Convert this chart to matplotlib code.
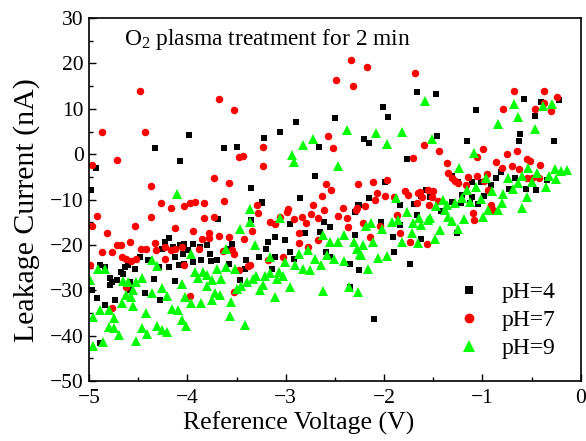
import matplotlib
matplotlib.use("Agg")
import matplotlib.pyplot as plt
from matplotlib.ticker import MultipleLocator

plt.rcParams['font.family'] = ['Liberation Serif', 'DejaVu Serif']
plt.rcParams['mathtext.fontset'] = 'custom'
plt.rcParams['mathtext.rm'] = 'Liberation Serif'

# pH = 4 : (reference voltage V, leakage current nA)
ph4_v = [-4.93, -4.98, -4.33, -3.98, -4.08, -3.63, -3.50, -3.35,
         -1.67, -2.01, -1.96, -2.90, -2.50, -3.06, -3.22, -2.66, -2.20, -2.15, -1.77, -2.70,
         -3.24, -2.85, -1.99, -2.15, -2.25, -1.84, -1.70,
         -1.47, -1.07, -0.58, -0.40, -0.22, -0.47, -0.62, -0.63, -0.27, -1.16, -1.46,
         -1.57, -1.62, -1.31, -1.25, -0.91, -0.86, -0.81, -0.67, -0.73, -0.56, -0.45, -0.34,
         -1.21, -1.11, -0.98, -1.31, -1.22, -1.04,
         -1.53, -1.67, -1.62, -1.26, -1.13, -1.11, -1.01, -1.42,
         -3.69, -3.35, -4.19, -4.23, -4.26, -4.15, -4.08, -4.03, -3.94, -3.87, -3.80, -3.99,
         -4.04, -4.13, -4.19, -4.29, -4.40, -4.48, -3.77, -3.70, -3.76, -3.86, -3.94, -4.09,
         -4.03, -3.58, -3.55, -3.57, -3.40, -3.41, -3.47,
         -4.89, -4.84, -4.68, -4.63, -4.60, -4.66, -4.79, -4.79, -4.72, -4.77, -4.58, -4.58,
         -4.53, -4.43, -4.34, -4.28, -4.13, -4.97, -4.92, -4.74, -4.84, -4.89,
         -3.24, -2.96, -3.11, -3.18, -3.01, -3.20, -3.27, -3.11, -3.14, -2.96, -2.92, -2.80,
         -2.65, -2.61, -2.55, -2.59, -2.55, -2.35, -2.25, -2.30, -2.30, -2.26, -2.03, -1.91,
         -1.90, -1.84, -1.74, -2.35, -2.10]
ph4_i = [-3.1, -8.0, 1.4, 4.3, -1.5, 1.3, 1.5, -7.4,
         13.6, 10.4, 8.3, 7.1, 7.9, 5.0, 3.6, 1.6, 3.4, 2.4, -1.0, -4.8,
         -10.6, -9.7, -6.2, -9.6, -11.1, -11.1, -10.9,
         13.3, 9.7, 12.2, 11.6, 12.0, 8.5, 4.4, 2.8, 2.8, 2.9, 4.0,
         -7.8, -9.2, -4.8, -6.1, -6.8, -5.3, -3.9, -5.3, -7.7, -7.7, -7.8, -5.6,
         -9.0, -9.4, -9.2, -10.5, -10.8, -11.0,
         -9.4, -13.4, -18.6, -17.4, -10.8, -6.1, -6.1, -12.5,
         -14.3, -14.5, -18.5, -19.3, -20.8, -20.4, -20.0, -19.7, -19.7, -20.4, -20.0, -21.1,
         -21.9, -22.7, -24.8, -24.8, -23.3, -22.6, -21.9, -23.3, -23.6, -23.3, -23.7, -24.4,
         -24.1, -24.1, -19.7, -20.8, -23.3, -25.2, -27.7,
         -24.4, -24.8, -25.9, -24.8, -24.4, -26.4, -27.4, -28.8, -27.7, -28.1, -28.1, -29.9,
         -25.4, -30.7, -27.5, -32.1, -27.9, -29.9, -31.6, -32.1, -33.3, -41.6,
         -10.8, -15.3, -18.2, -19.3, -18.9, -20.8, -22.6, -22.6, -25.2, -21.5, -23.0, -17.4,
         -17.1, -14.9, -16.0, -21.5, -22.6, -24.1, -25.5, -17.8, -12.8, -11.2, -14.9, -18.3,
         -21.6, -15.6, -24.3, -29.3, -36.4]

# pH = 7
ph7_v = [-4.48, -4.87, -4.43, -3.68, -3.53, -4.72, -4.97, -4.37, -3.73, -3.58, -3.48, -3.43,
         -4.27, -4.17, -4.03, -3.97, -3.92, -3.83, -3.63,
         -2.34, -2.17, -2.49, -2.32, -1.69, -2.57, -2.52, -3.23, -3.23, -1.71,
         -2.59, -2.54, -2.63, -2.27, -2.11, -1.97, -2.07, -2.09, -1.99, -1.90, -1.79, -1.76,
         -1.65, -3.29, -2.98, -2.72, -2.42, -2.28, -2.19,
         -0.68, -0.37, -0.24, -0.79, -0.47, -0.30, -0.37, -1.59, -1.44, -0.99, -1.05, -1.36,
         -0.86, -0.75, -0.65, -0.55, -0.52, -0.41, -0.80, -0.70, -0.63, -1.35, -1.31, -1.28,
         -1.25, -1.15, -1.05, -0.95, -1.17, -0.98, -0.94, -1.63, -1.55, -1.50, -1.51, -1.61,
         -1.66, -1.54, -0.91, -0.55, -0.50, -0.42,
         -1.10, -1.09, -0.89, -1.56, -1.45,
         -4.92, -4.97, -4.82, -4.37, -4.53, -4.13, -3.83, -3.73, -3.94, -3.78, -3.68, -3.58,
         -3.78, -3.42, -4.72, -4.68, -4.77, -4.87, -4.58, -4.47, -4.42, -4.33, -4.32, -4.23,
         -4.17, -4.13, -4.06, -3.85, -3.88, -4.67, -4.62, -4.57, -4.52, -4.23, -4.03, -3.64,
         -3.55, -3.53, -3.38, -4.62, -4.77, -3.97, -3.53, -3.48, -4.99,
         -3.28, -3.34, -3.16, -3.11, -3.06, -2.99, -2.92, -2.83, -2.79, -2.74, -2.67, -2.61,
         -2.47, -2.38, -2.37, -2.29, -2.21, -2.14, -2.87, -2.87, -2.77, -2.67, -3.03, -3.18,
         -1.87, -1.84, -1.74, -2.04, -3.36]
ph7_i = [14.0, 5.0, 5.0, 12.1, 9.7, -1.3, -2.4, -7.0, -5.2, -6.3, -0.6, -0.4,
         -10.8, -11.9, -11.4, -10.7, -10.5, -10.7, -10.3,
         20.7, 19.3, 16.4, 15.1, 17.9, 4.1, 1.3, 1.5, -2.5, -0.8,
         -6.5, -7.8, -9.2, -6.5, -6.1, -5.7, -8.5, -10.0, -9.2, -9.4, -8.1, -9.1,
         -8.5, -11.1, -12.0, -11.3, -11.9, -11.9, -11.4,
         14.0, 14.0, 12.6, 10.0, 9.9, 9.5, 11.3, 2.1, 0.7, 1.2, -0.6, -1.9,
         -1.7, 0.1, 0.7, -1.1, -1.5, -2.3, -3.1, -2.5, -3.3, -4.1, -5.2, -5.9,
         -6.4, -5.0, -4.8, -4.4, -6.8, -5.9, -7.9, -8.3, -7.9, -8.2, -9.4, -9.4,
         -10.8, -11.1, -11.1, -5.2, -5.3, -5.3,
         -13.0, -14.5, -12.3, -19.9, -10.3,
         -13.6, -15.8, -17.3, -13.9, -15.8, -16.3, -14.0, -13.8, -16.9, -17.4, -18.0, -18.2,
         -18.4, -18.8, -20.0, -20.0, -21.5, -21.5, -19.3, -20.8, -20.8, -19.5, -21.1, -20.4,
         -21.1, -21.0, -20.5, -18.8, -21.0, -22.7, -23.2, -23.5, -23.2, -23.2, -24.4, -21.3,
         -21.1, -21.9, -24.6, -29.3, -34.0, -31.3, -30.3, -25.5, -24.4,
         -13.0, -16.9, -14.9, -15.3, -13.8, -12.7, -14.2, -13.9, -15.2, -13.2, -14.1, -12.3,
         -13.6, -14.1, -16.0, -12.2, -15.2, -18.2, -17.4, -19.6, -20.4, -18.9, -22.7, -23.3,
         -13.4, -17.4, -19.3, -15.8, -24.4]

# pH = 9
ph9_v = [-4.11, -3.36, -2.94, -2.92, -2.82, -2.72, -2.38, -2.47, -2.08, -1.97, -1.82, -1.88,
         -1.58, -0.68, -0.64, -0.84, -0.47, -0.38, -0.29, -1.51, -1.09, -1.24, -0.54, -0.44,
         -0.32, -0.26, -0.20, -0.14, -0.25, -0.35, -0.96, -0.74, -0.60, -0.50, -1.06, -0.90,
         -0.79, -0.69, -1.16, -1.21, -1.01, -1.13, -1.28, -1.40, -1.47, -1.36, -0.55, -0.80,
         -0.60, -0.64, -0.94, -0.84, -0.99,
         -1.38, -1.35, -1.31, -1.19, -1.25, -1.43, -1.55, -1.62, -1.48, -1.65, -1.53, -1.64,
         -4.91, -4.84, -4.99, -4.66, -4.60, -4.52, -4.46, -4.55, -4.62, -4.57, -4.36, -4.31,
         -4.26, -4.21, -4.36, -3.96, -3.92, -3.84, -3.89, -3.80, -3.75, -3.80, -3.70, -3.61,
         -3.52, -3.66, -3.61, -4.06, -4.02, -3.96, -3.86, -3.75, -3.72, -3.67, -3.56, -3.57,
         -3.41, -3.50, -3.45, -3.39, -3.33, -3.47, -3.36,
         -4.89, -4.80, -4.96, -4.75, -4.67, -4.55, -4.42, -4.16, -4.10, -4.80, -4.75, -4.70,
         -4.46, -4.41, -4.31, -4.26, -4.21, -4.06, -4.01, -4.52, -4.86, -4.96,
         -3.06, -3.31, -3.16, -3.30, -3.21, -3.16, -3.09, -3.03, -3.07, -3.23, -3.26, -3.11,
         -2.96, -2.62, -2.36, -2.27,
         -3.01, -2.91, -2.87, -2.82, -2.77, -2.75, -2.70, -2.64, -2.58, -2.51, -2.41, -2.24,
         -2.16, -2.06, -1.97,
         -2.62, -2.55, -2.47, -2.41, -2.31, -2.28, -2.21, -2.11, -2.23, -2.18, -2.13, -2.02,
         -1.92, -1.86, -1.77, -1.71, -1.82, -1.72]
ph9_i = [-8.8, -12.0, -0.1, -1.7, 2.1, 3.4, 5.3, -2.5, 4.7, 2.2, 4.8, -9.6,
         11.7, 11.0, 8.3, 6.7, 5.6, 10.6, 11.0, 3.3, 0.2, -3.1, -3.1, -4.2,
         -4.7, -3.2, -3.7, -3.4, -5.4, -7.2, -5.3, -5.3, -4.8, -6.1, -7.2, -8.1,
         -8.8, -7.6, -7.9, -9.6, -9.8, -10.5, -10.7, -10.0, -11.4, -11.3, -9.5, -10.8,
         -11.9, -6.3, -12.3, -12.3, -13.8,
         -12.3, -13.8, -14.7, -14.3, -16.5, -16.7, -14.5, -15.6, -18.7, -19.6, -14.0, -14.0,
         -25.4, -25.4, -27.7, -27.9, -28.1, -28.1, -27.4, -29.9, -31.0, -31.4, -23.3, -24.7,
         -29.4, -31.2, -30.7, -21.9, -25.9, -25.9, -27.4, -26.6, -27.7, -29.1, -25.2, -24.8,
         -25.2, -27.6, -20.8, -28.7, -31.4, -32.9, -32.9, -32.2, -30.5, -31.0, -32.5, -35.6,
         -37.7, -29.8, -29.1, -28.1, -27.6, -16.6, -14.9,
         -34.4, -34.4, -35.8, -36.2, -32.9, -33.5, -34.9, -34.2, -34.4, -38.0, -38.4, -39.8,
         -38.3, -39.6, -37.9, -38.8, -39.1, -36.6, -37.9, -41.2, -41.3, -42.2,
         -14.1, -20.0, -22.7, -26.9, -26.9, -26.1, -27.6, -26.9, -25.9, -28.8, -29.9, -31.5,
         -29.3, -30.1, -29.3, -30.3,
         -23.7, -24.4, -21.9, -25.2, -21.1, -25.5, -23.2, -24.4, -22.2, -23.0, -23.5, -21.9,
         -25.2, -22.8, -22.5,
         -17.8, -19.3, -19.3, -17.8, -19.3, -21.0, -20.0, -19.3, -22.2, -15.8, -15.2, -16.6,
         -14.9, -14.5, -12.7, -15.2, -19.3, -17.4]

series_labels = ['pH=4', 'pH=7', 'pH=9']
x_ticks = [-5, -4, -3, -2, -1, 0]
y_ticks = [-50, -40, -30, -20, -10, 0, 10, 20, 30]

fig = plt.figure(figsize=(5.86, 4.41), dpi=100)
ax = fig.add_axes([0.152, 0.136, 0.839, 0.823])

ax.plot(ph4_v, ph4_i, 's', color='black', markersize=4.8, markeredgewidth=0,
        label=series_labels[0], linestyle='none')
ax.plot(ph7_v, ph7_i, 'o', color='#ff0000', markersize=5.4, markeredgewidth=0,
        label=series_labels[1], linestyle='none')
ax.plot(ph9_v, ph9_i, '^', color='#00ff00', markersize=6.6, markeredgewidth=0,
        label=series_labels[2], linestyle='none')

ax.set_xlim(-5, 0)
ax.set_ylim(-50, 30)
ax.set_xticks(x_ticks)
ax.set_yticks(y_ticks)
ax.xaxis.set_minor_locator(MultipleLocator(0.5))
ax.yaxis.set_minor_locator(MultipleLocator(5))
ax.tick_params(which='both', direction='in', top=False, right=False, labelsize=15.5)
ax.tick_params(which='major', length=5, width=1)
ax.tick_params(which='minor', length=3, width=1)
ax.tick_params(axis='x', pad=6)
ax.tick_params(axis='y', pad=4)
for s in ax.spines.values():
    s.set_linewidth(1.2)

ax.set_xlabel('Reference Voltage (V)', fontsize=18.5)
ax.set_ylabel('Leakage Current (nA)', fontsize=21.5)
ax.xaxis.set_label_coords(0.427, -0.085)
ax.yaxis.set_label_coords(-0.10, 0.471)

ax.text(0.072, 0.926, r'O$_2$ plasma treatment for 2 min', transform=ax.transAxes,
        fontsize=16.8, ha='left', va='baseline')

ax.legend(loc='lower left', bbox_to_anchor=(0.748, 0.061), frameon=False,
          fontsize=17, handletextpad=0.9, labelspacing=0.27, markerscale=1.3,
          handlelength=1.0, borderpad=0, borderaxespad=0)

fig.savefig('out.png', dpi=100)
